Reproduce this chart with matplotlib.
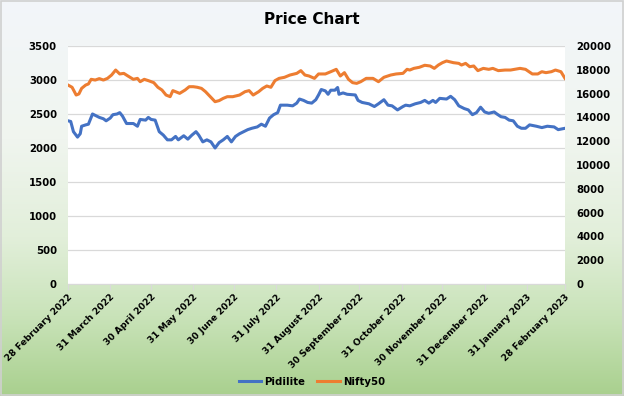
import numpy as np
import pandas as pd
import matplotlib
matplotlib.use("Agg")
import matplotlib.pyplot as plt
import matplotlib.dates as mdates
from matplotlib.colors import LinearSegmentedColormap
from matplotlib.patches import Rectangle

plt.rcParams['font.family'] = ['DejaVu Sans']

start_date = "2022-02-28"
end_date = "2023-02-28"

# Pidilite (left axis): day offset from 28 Feb 2022 and price
pid_days = [0, 2, 4, 7, 9, 10, 13, 15, 18, 20, 23, 26, 28, 31, 33, 36, 38, 40, 43, 48,
            51, 53, 57, 59, 61, 64, 67, 70, 73, 76, 79, 81, 85, 88, 91, 94, 96, 99, 102, 105,
            108, 111, 114, 117, 120, 123, 126, 129, 132, 135, 139, 142, 145, 148, 151, 154, 156, 161, 165, 168,
            170, 173, 176, 179, 182, 184, 186, 189, 191, 193, 196, 198, 199, 202, 205, 211, 213, 216, 221, 225,
            228, 232, 235, 238, 242, 246, 248, 251, 255, 259, 262, 265, 268, 270, 273, 278, 281, 284, 287, 291,
            294, 297, 300, 303, 306, 309, 313, 315, 318, 321, 324, 327, 330, 333, 336, 339, 344, 348, 352, 357,
            360, 365]
pid_vals = [2400, 2390, 2240, 2160, 2210, 2320, 2340, 2350, 2500, 2480, 2450, 2430, 2400, 2440, 2490, 2500, 2520, 2470, 2360, 2360,
            2320, 2420, 2410, 2450, 2420, 2410, 2240, 2190, 2120, 2120, 2170, 2120, 2180, 2130, 2190, 2240, 2190, 2090, 2120, 2090,
            2000, 2080, 2120, 2170, 2090, 2170, 2210, 2240, 2270, 2290, 2310, 2350, 2320, 2440, 2490, 2520, 2630, 2630, 2620, 2660,
            2720, 2700, 2670, 2660, 2710, 2780, 2860, 2840, 2790, 2850, 2850, 2890, 2790, 2810, 2790, 2780, 2700, 2670, 2650, 2610,
            2650, 2710, 2630, 2620, 2560, 2610, 2630, 2620, 2650, 2670, 2700, 2660, 2700, 2670, 2730, 2720, 2760, 2710, 2620, 2580,
            2560, 2490, 2520, 2600, 2530, 2510, 2530, 2500, 2460, 2450, 2410, 2400, 2320, 2290, 2290, 2340, 2320, 2300, 2320, 2310,
            2270, 2290]

# Nifty50 (right axis)
nif_days = [0, 3, 6, 8, 10, 13, 15, 17, 20, 23, 26, 29, 32, 35, 38, 41, 44, 48, 51, 53,
            56, 59, 63, 66, 69, 72, 75, 77, 79, 82, 86, 89, 92, 95, 98, 101, 108, 111, 114, 117,
            121, 126, 130, 133, 136, 140, 143, 146, 149, 152, 155, 159, 163, 168, 171, 174, 177, 181, 184, 189,
            193, 197, 200, 203, 206, 209, 212, 215, 219, 224, 228, 232, 237, 241, 246, 249, 251, 254, 258, 262,
            266, 269, 272, 275, 278, 283, 287, 289, 292, 295, 298, 301, 305, 309, 312, 316, 321, 325, 332, 336,
            341, 345, 348, 351, 355, 358, 362, 365]
nif_vals = [16720, 16530, 15880, 15970, 16440, 16720, 16810, 17200, 17140, 17260, 17140, 17280, 17560, 17980, 17650, 17700, 17480, 17200, 17280, 17000,
            17200, 17090, 16920, 16530, 16300, 15880, 15740, 16250, 16160, 16020, 16300, 16580, 16580, 16530, 16440, 16160, 15320, 15410, 15600, 15740,
            15740, 15880, 16160, 16250, 15880, 16160, 16440, 16640, 16530, 17090, 17280, 17370, 17560, 17700, 17930, 17560, 17480, 17280, 17650, 17650,
            17840, 18040, 17480, 17760, 17200, 16920, 16860, 17000, 17280, 17280, 17000, 17370, 17560, 17650, 17700, 18040, 17980, 18120, 18210, 18380,
            18320, 18120, 18400, 18600, 18740, 18600, 18540, 18400, 18540, 18260, 18320, 17930, 18120, 18040, 18120, 17930, 17980, 17980, 18120, 18040,
            17650, 17650, 17840, 17760, 17840, 17980, 17840, 17280]

left_ticks = [0, 500, 1000, 1500, 2000, 2500, 3000, 3500]
right_ticks = [0, 2000, 4000, 6000, 8000, 10000, 12000, 14000, 16000, 18000, 20000]

t0 = pd.Timestamp(start_date)
pid_dates = [t0 + pd.Timedelta(days=d) for d in pid_days]
nif_dates = [t0 + pd.Timedelta(days=d) for d in nif_days]

fig = plt.figure(figsize=(6.24, 3.96), dpi=100)

# background gradient
bg = fig.add_axes([0, 0, 1, 1], zorder=-10)
cmap = LinearSegmentedColormap.from_list(
    "bg", [(0.0, "#F3F6FA"), (0.35, "#F0F5EF"), (0.6, "#E2EFDA"), (0.8, "#C9E3B9"), (1.0, "#A9D08E")])
grad = np.linspace(0, 1, 256).reshape(-1, 1)
bg.imshow(grad, aspect='auto', cmap=cmap, extent=[0, 1, 0, 1], origin='upper')
bg.set_axis_off()
fig.patches.append(Rectangle((0.001, 0.002), 0.997, 0.995, transform=fig.transFigure,
                             fill=False, edgecolor="#D0D0D0", linewidth=1.2))

ax = fig.add_axes([68/624, 1-284/396, (565-68)/624, (284-46)/396])
ax.set_facecolor("white")
ax2 = ax.twinx()

l1, = ax.plot(pid_dates, pid_vals, color="#4472C4", linewidth=2.2, label="Pidilite", zorder=3)
l2, = ax2.plot(nif_dates, nif_vals, color="#ED7D31", linewidth=2.2, label="Nifty50", zorder=3)

ax.set_ylim(0, 3500)
ax2.set_ylim(0, 20000)
ax.set_yticks(left_ticks)
ax2.set_yticks(right_ticks)
ax.set_xlim(pd.Timestamp(start_date), pd.Timestamp(end_date))

month_ends = pd.date_range(start_date, end_date, freq="ME")
ax.set_xticks(month_ends)
ax.set_xticklabels([f"{d.day} {d.strftime('%B')} {d.year}" for d in month_ends],
                   rotation=45, ha='right', rotation_mode='anchor', fontsize=6.6, fontweight='bold')

ax.grid(axis='y', color="#D9D9D9", linewidth=0.9)
ax.set_axisbelow(True)
for a in (ax, ax2):
    for s in ('top', 'left', 'right'):
        a.spines[s].set_visible(False)
    a.spines['bottom'].set_color("#D9D9D9")
ax2.spines['bottom'].set_visible(False)
ax.tick_params(axis='y', length=0, labelsize=7.3, pad=8)
ax2.tick_params(axis='y', length=0, labelsize=7.3, pad=8)
ax.tick_params(axis='x', length=4, color="#D9D9D9", pad=2)
for lab in ax.get_yticklabels() + ax2.get_yticklabels():
    lab.set_fontweight('bold')

fig.text(0.5, 1-20/396, "Price Chart", ha='center', va='center', fontsize=11, fontweight='bold')

fig.legend(handles=[l1, l2], loc='center', bbox_to_anchor=(0.5, 1-382/396), ncol=2, frameon=False,
           prop={'size': 7.3, 'weight': 'bold'}, handlelength=2.2, handletextpad=0.3, columnspacing=1.2)

fig.savefig("out.png", dpi=100)
